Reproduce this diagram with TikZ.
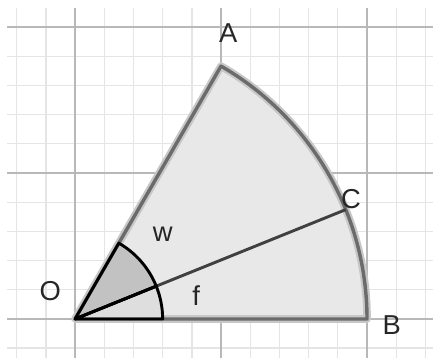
\documentclass[tikz,border=0pt]{standalone}
\usepackage{fontspec}
\setmainfont{Liberation Sans}
\begin{document}
\begin{tikzpicture}[x=3cm,y=3cm,
  lbl/.style={font=\fontsize{16}{18}\selectfont, text=black!85, inner sep=0pt},
  minorgrid/.style={draw=black!10, line width=0.8pt},
  majorgrid/.style={draw=black!28, line width=1.1pt},
  sectorhalo/.style={draw=black!22, line width=4.5pt, line join=round},
  sectorline/.style={draw=black!58, line width=2pt, line join=round},
  rayline/.style={draw=black!75, line width=1.7pt},
  angleline/.style={draw=black, line width=1.7pt, line join=round}]
\useasboundingbox (-0.514,-0.267) rectangle (2.452,2.185);
% grid
\begin{scope}
\clip (-0.466,-0.267) rectangle (2.452,2.13);
\foreach \i in {-3,...,13} \draw[minorgrid] (\i*0.2,-0.3) -- (\i*0.2,2.2);
\foreach \j in {-2,...,11} \draw[minorgrid] (-0.5,\j*0.2) -- (2.5,\j*0.2);
\foreach \i in {0,1,2} \draw[majorgrid] (\i,-0.3) -- (\i,2.2);
\foreach \j in {0,1,2} \draw[majorgrid] (-0.5,\j) -- (2.5,\j);
\end{scope}
% points
\coordinate (O) at (0,0);
\coordinate (A) at (60:2);
\coordinate (B) at (2,0);
\coordinate (C) at (22:2);
% sector
\fill[black!9] (O) -- (B) arc (0:60:2) -- cycle;
\draw[sectorhalo] (O) -- (B) arc (0:60:2) -- cycle;
% angle fills
\fill[black!13] (O) -- (0.6,0) arc (0:22:0.6) -- cycle;
\fill[black!24] (O) -- (22:0.6) arc (22:60:0.6) -- cycle;
\draw[sectorline] (O) -- (B) arc (0:60:2) -- cycle;
\draw[rayline] (O) -- (C);
% angle outlines
\draw[angleline] (O) -- (0.6,0) arc (0:22:0.6) -- cycle;
\draw[angleline] (O) -- (22:0.6) arc (22:60:0.6) -- cycle;
% labels
\node[lbl] (lA) at (1.05,1.96) {A};
\node[lbl] (lB) at (2.17,-0.04) {B};
\node[lbl] (lC) at (1.89,0.82) {C};
\node[lbl] (lO) at (-0.17,0.19) {O};
\node[lbl] (lw) at (0.60,0.58) {w};
\node[lbl] (lf) at (0.83,0.16) {f};
\end{tikzpicture}
\end{document}
